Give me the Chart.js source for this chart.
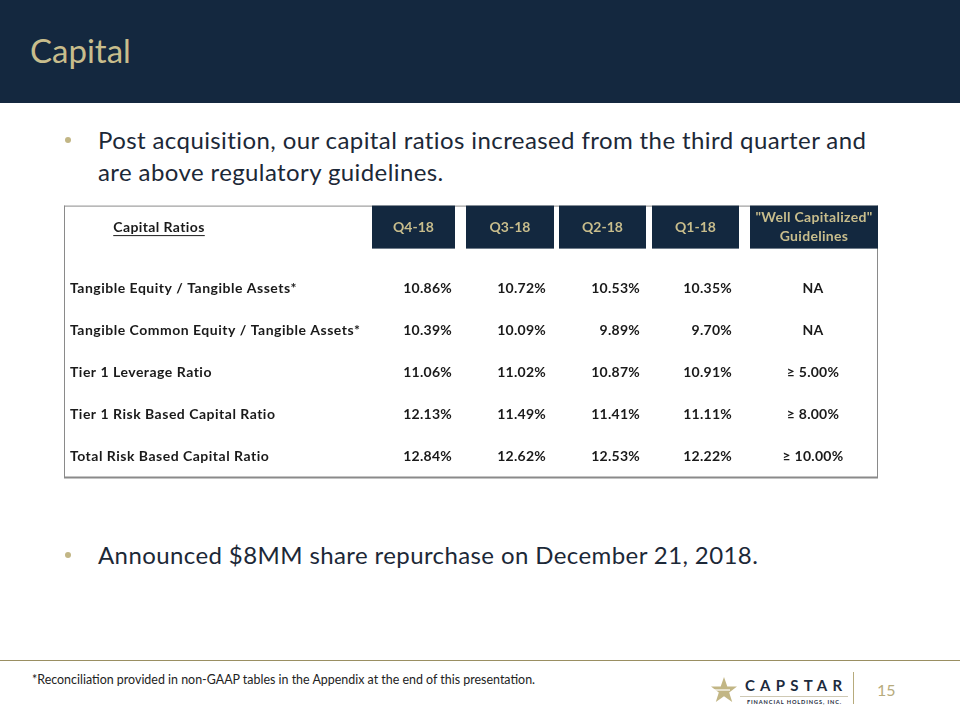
<!DOCTYPE html>
<html>
<head>
<meta charset="utf-8">
<script src="https://cdn.jsdelivr.net/npm/chart.js@4.4.1/dist/chart.umd.min.js"></script>
<style>
  html, body { margin: 0; padding: 0; }
  body { width: 960px; height: 720px; position: relative; background: #fff; overflow: hidden; font-family: Lato, "Open Sans", sans-serif; }
  .band { position: absolute; left: 0; top: 0; width: 960px; height: 103px; background: #14283f; }
  .title { position: absolute; left: 30px; top: 30px; font-size: 33px; color: #c8bd8c; }
  .bullet { position: absolute; left: 98px; font-size: 24px; letter-spacing: 0.4px; color: #1c2837; line-height: 32px; width: 785px; }
  .dot { position: absolute; left: -33px; top: 13px; width: 6px; height: 6px; border-radius: 50%; background: #c2b685; }
  #tableWrap { position: absolute; left: 60px; top: 200px; width: 824px; height: 282px; }
  .rule { position: absolute; left: 0; top: 660px; width: 960px; height: 1px; background: #9a8f62; }
  .note { position: absolute; left: 32px; top: 672px; font-size: 12.45px; color: #222; }
  .page { position: absolute; left: 877px; top: 680px; font-size: 16px; color: #b7ab7c; }
  .vline { position: absolute; left: 853px; top: 672px; width: 1px; height: 32px; background: #b7ab7c; }
  .cap { position: absolute; left: 745px; top: 676px; font-size: 15px; letter-spacing: 5.2px; color: #1d2b3d; font-weight: bold; }
  .capsub { position: absolute; left: 747px; top: 698px; font-size: 5.6px; letter-spacing: 0.9px; color: #1d2b3d; font-weight: bold; }
  .capline { position: absolute; left: 740px; top: 696px; width: 108px; height: 1px; background: #cfc9b4; }
  .star { position: absolute; left: 710px; top: 676px; }
</style>
</head>
<body>
<div class="band"></div>
<div class="title">Capital</div>
<div class="bullet" style="top:124px"><span class="dot"></span>Post acquisition, our capital ratios increased from the third quarter and are above regulatory guidelines.</div>
<div id="tableWrap"><canvas id="tbl" width="824" height="282"></canvas></div>
<div class="bullet" style="top:539px"><span class="dot"></span>Announced $8MM share repurchase on December 21, 2018.</div>
<div class="rule"></div>
<div class="note">*Reconciliation provided in non-GAAP tables in the Appendix at the end of this presentation.</div>
<svg class="star" width="28" height="28" viewBox="0 0 28 28"><polygon points="14,1 17.3,10.5 27,10.5 19.2,16.4 22.2,26 14,20.2 5.8,26 8.8,16.4 1,10.5 10.7,10.5" fill="#c2b685"/><line x1="4" y1="14" x2="20" y2="14" stroke="#fff" stroke-width="1.2"/></svg>
<div class="cap">CAPSTAR</div>
<div class="capline"></div>
<div class="capsub">FINANCIAL HOLDINGS, INC.</div>
<div class="vline"></div>
<div class="page">15</div>

<script>
// table content
const stubHeader = "Capital Ratios";
const quarters = ["Q4-18", "Q3-18", "Q2-18", "Q1-18"];
const guideHeader = ['"Well Capitalized"', "Guidelines"];
const metrics = [
  "Tangible Equity / Tangible Assets*",
  "Tangible Common Equity / Tangible Assets*",
  "Tier 1 Leverage Ratio",
  "Tier 1 Risk Based Capital Ratio",
  "Total Risk Based Capital Ratio"
];
const q4 = [10.86, 10.39, 11.06, 12.13, 12.84];
const q3 = [10.72, 10.09, 11.02, 11.49, 12.62];
const q2 = [10.53, 9.89, 10.87, 11.41, 12.53];
const q1 = [10.35, 9.70, 10.91, 11.11, 12.22];
const guidelines = ["NA", "NA", "≥ 5.00%", "≥ 8.00%", "≥ 10.00%"];

// layout (page px on x, row index on y)
const boxEdges = [[372, 455], [466, 554], [559, 646], [652, 739], [750, 878]];
const valueRight = [452, 546, 640, 732];
const guideCenter = 813;
const labelLeft = 70;
const stubCenter = 159;
const headerRow = -0.45;
const tableLeft = 64, tableRight = 878;

const NAVY = "#13283f", GOLD = "#c8bd8c", INK = "#1a1a1a";
const FONT = "Lato, 'Open Sans', sans-serif";

const series = [q4, q3, q2, q1];
const datasets = series.map((vals, c) => ({
  label: quarters[c],
  data: vals.map((v, r) => ({ x: valueRight[c], y: r + 1, text: v.toFixed(2) + "%" })),
  pointRadius: 0, align: "right", spacing: "0.25px"
}));
datasets.push({
  label: "guide",
  data: guidelines.map((g, r) => ({ x: guideCenter, y: r + 1, text: g })),
  pointRadius: 0, align: "center", spacing: "0.25px"
});
datasets.push({
  label: "metric",
  data: metrics.map((m, r) => ({ x: labelLeft, y: r + 1, text: m })),
  pointRadius: 0, align: "left", spacing: "0.5px"
});

const tablePlugin = {
  id: "tablePlugin",
  beforeDatasetsDraw(chart) {
    const { ctx, scales: { x, y } } = chart;
    const hy = y.getPixelForValue(headerRow);
    const top = hy - 21.5, bottom = y.getPixelForValue(5.5) + 0.5;
    ctx.save();
    // borders
    ctx.strokeStyle = "#8a8a8a";
    ctx.lineWidth = 1;
    ctx.beginPath();
    ctx.moveTo(x.getPixelForValue(tableLeft) + 0.5, top);
    ctx.lineTo(x.getPixelForValue(tableLeft) + 0.5, bottom);
    ctx.moveTo(x.getPixelForValue(tableLeft), top + 0.5);
    ctx.lineTo(x.getPixelForValue(tableRight), top + 0.5);
    ctx.moveTo(x.getPixelForValue(tableRight) - 0.5, top);
    ctx.lineTo(x.getPixelForValue(tableRight) - 0.5, bottom);
    ctx.stroke();
    ctx.lineWidth = 2;
    ctx.beginPath();
    ctx.moveTo(x.getPixelForValue(tableLeft), bottom);
    ctx.lineTo(x.getPixelForValue(tableRight), bottom);
    ctx.stroke();
    // header boxes
    ctx.fillStyle = NAVY;
    boxEdges.forEach(([a, b]) => {
      const l = x.getPixelForValue(a), r = x.getPixelForValue(b);
      ctx.fillRect(l, top, r - l, 43);
    });
    ctx.font = "bold 14px " + FONT;
    ctx.textBaseline = "middle";
    ctx.textAlign = "center";
    ctx.fillStyle = GOLD;
    quarters.forEach((q, i) => {
      const [a, b] = boxEdges[i];
      ctx.fillText(q, (x.getPixelForValue(a) + x.getPixelForValue(b)) / 2, hy);
    });
    const [ga, gb] = boxEdges[4];
    const gx = (x.getPixelForValue(ga) + x.getPixelForValue(gb)) / 2;
    ctx.letterSpacing = "0.3px";
    ctx.fillText(guideHeader[0], gx, hy - 9.5);
    ctx.fillText(guideHeader[1], gx, hy + 9.5);
    // stub header, underlined
    ctx.fillStyle = INK;
    ctx.font = "bold 14px " + FONT;
    ctx.letterSpacing = "0.4px";
    const sx = x.getPixelForValue(stubCenter);
    ctx.fillText(stubHeader, sx, hy);
    const w = ctx.measureText(stubHeader).width;
    ctx.fillRect(sx - w / 2, hy + 8, w, 1);
    ctx.restore();
  },
  afterDatasetsDraw(chart) {
    const { ctx } = chart;
    ctx.save();
    ctx.font = "bold 14px " + FONT;
    ctx.textBaseline = "middle";
    ctx.fillStyle = INK;
    chart.data.datasets.forEach((ds, i) => {
      ctx.textAlign = ds.align;
      ctx.letterSpacing = ds.spacing;
      chart.getDatasetMeta(i).data.forEach((pt, j) => {
        ctx.fillText(ds.data[j].text, pt.x, pt.y);
      });
    });
    ctx.restore();
  }
};

new Chart(document.getElementById("tbl"), {
  type: "scatter",
  data: { datasets },
  options: {
    responsive: false,
    animation: false,
    layout: { padding: 0 },
    plugins: { legend: { display: false }, tooltip: { enabled: false } },
    scales: {
      x: { type: "linear", display: false, min: 60, max: 884 },
      y: { type: "linear", display: false, reverse: true, min: 1 + (200 - 288) / 42, max: 1 + (482 - 288) / 42 }
    }
  },
  plugins: [tablePlugin]
});
</script>
</body>
</html>
